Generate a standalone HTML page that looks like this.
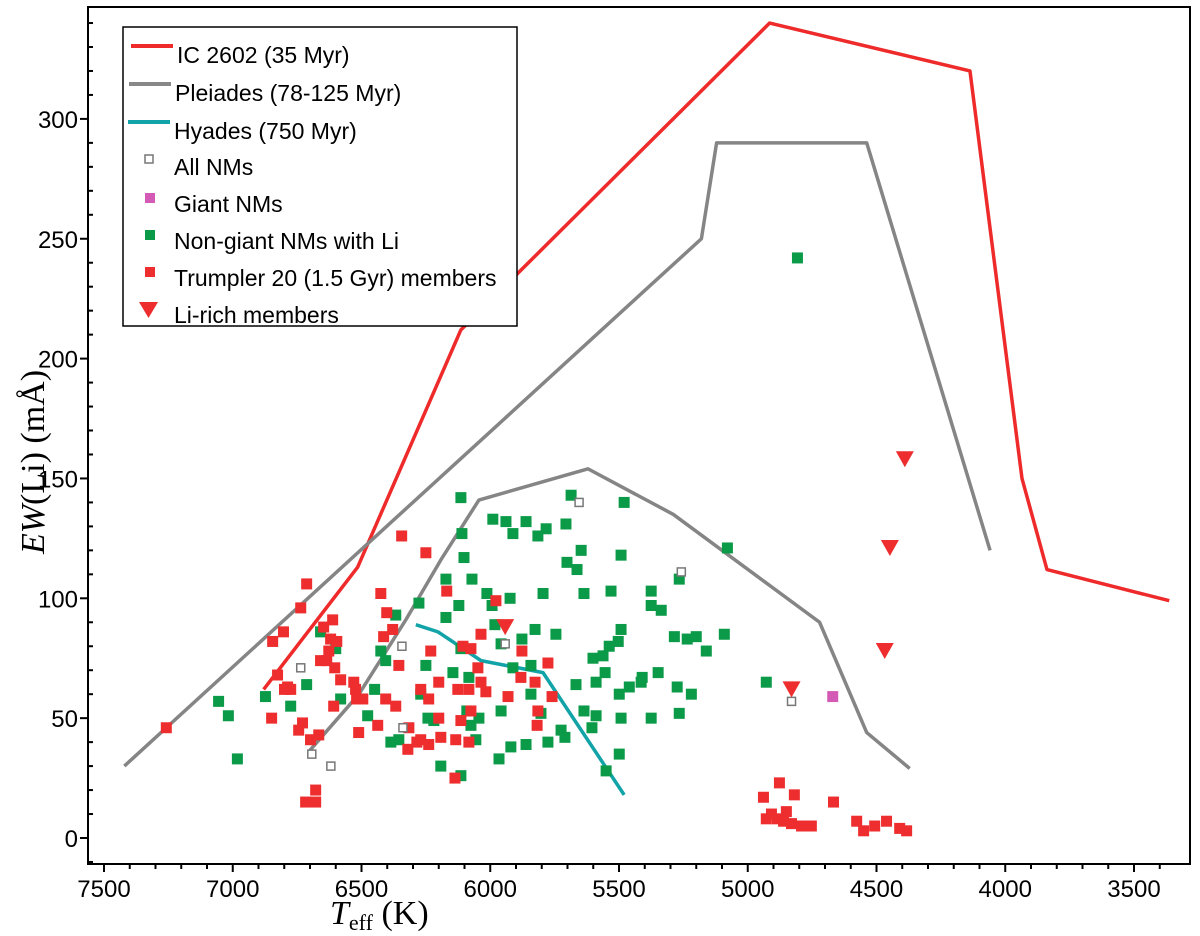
<!DOCTYPE html>
<html><head><meta charset="utf-8"><style>
html,body{margin:0;padding:0;background:#fff;width:1200px;height:936px;overflow:hidden}
svg{display:block;font-family:"Liberation Sans",Arial,sans-serif}
</style></head><body>
<svg id="chart" width="1200" height="936" viewBox="0 0 1200 936">
<rect x="88" y="7" width="1102" height="857" fill="#fff" stroke="#000" stroke-width="2"/>
<g id="ticks"></g>
<g id="lines"></g>
<g id="marks"></g>
<text x="330" y="924" font-family="Liberation Serif,serif" font-size="34" font-style="italic">T<tspan font-size="22" font-style="normal" dy="6">eff</tspan><tspan font-style="normal" dy="-6"> (K)</tspan></text>
<text transform="translate(44,462) rotate(-90)" text-anchor="middle" font-family="Liberation Serif,serif" font-size="34"><tspan font-style="italic">EW</tspan>(Li) (mÅ)</text>
<g>
<rect x="123" y="27" width="394" height="299" fill="#fff" stroke="#000" stroke-width="1.5"/>
<line x1="131" y1="46" x2="173" y2="46" stroke="#ee2a2a" stroke-width="4"/>
<text x="177" y="63" font-size="23">IC 2602 (35 Myr)</text>
<line x1="129" y1="84" x2="171" y2="84" stroke="#888" stroke-width="4"/>
<text x="175" y="101" font-size="23">Pleiades (78-125 Myr)</text>
<line x1="128" y1="122" x2="170" y2="122" stroke="#12a3a8" stroke-width="4"/>
<text x="174" y="139" font-size="23">Hyades (750 Myr)</text>
<rect x="145" y="155" width="8" height="8" fill="#fff" stroke="#777" stroke-width="1.5"/>
<text x="174" y="175" font-size="23">All NMs</text>
<rect x="145" y="193" width="10" height="10" fill="#d45bb5"/>
<text x="174" y="212" font-size="23">Giant NMs</text>
<rect x="145" y="230" width="10" height="10" fill="#0b9a48"/>
<text x="174" y="249" font-size="23">Non-giant NMs with Li</text>
<rect x="145" y="267" width="10" height="10" fill="#ee2e2e"/>
<text x="174" y="286" font-size="23">Trumpler 20 (1.5 Gyr) members</text>
<polygon points="139,302 158,302 148.5,318" fill="#ee2e2e"/>
<text x="174" y="323" font-size="23">Li-rich members</text>
</g>
</svg>
<script>
const xTicks=[7500,7000,6500,6000,5500,5000,4500,4000,3500];
const yTicks=[0,50,100,150,200,250,300];
const icT=[6880,6515,6114,4915,4137,3935,3838,3363];
const icEW=[62,113,212,340,320,150,112,99];
const plUpT=[7421,5180,5121,4538,4059];
const plUpEW=[30,250,290,290,120];
const plLoT=[6705,6510,6328,6192,6044,5620,5289,4721,4538,4371];
const plLoEW=[36,60,91,116,141,154,135,90,44,29];
const hyT=[6289,6203,6036,5795,5752,5480];
const hyEW=[89,86,74,69,62,18];
const liRichT=[5942,4830,4468,4448,4390];
const liRichEW=[88,62,78,121,158];
const giantT=[4670];
const giantEW=[59];
const allT=[6736,6693,6619,6343,6339,5655,5258,4830,5942];
const allEW=[71,35,30,80,46,140,111,57,81];
const redT=[7258,6845,6803,6826,6787,6775,6799,6736,6713,6849,6729,6744,6698,6666,6608,6612,6647,6620,6627,6596,6659,6635,6604,6581,6530,6523,6414,6402,6379,6425,6678,6717,6678,6355,6344,6250,6169,6106,6075,6231,6285,6320,6270,6239,6192,6134,6083,6048,6036,5978,6036,6114,6200,6126,6270,6075,6083,5931,5881,5877,6017,5826,5815,5818,5776,5760,6137,6200,6239,6406,6367,6316,6437,6511,6519,6495,4908,4885,4861,4830,4791,4753,4939,4877,4819,4667,4577,4550,4507,4461,4410,4383,4928,4850];
const redEW=[46,82,86,68,63,62,62,96,106,50,48,45,41,43,55,91,88,83,78,82,74,74,71,66,65,62,84,94,87,102,20,15,15,72,126,119,103,80,79,78,40,37,41,39,42,41,40,71,65,99,85,49,65,62,62,53,62,59,67,78,61,65,53,47,73,59,25,50,58,58,55,46,47,44,58,58,10,8,7,6,5,5,17,23,18,15,7,3,5,7,4,3,8,11];
const greenT=[7055,7017,6982,6873,6775,6713,6659,6600,6581,6476,6449,6425,6406,6367,6355,6386,6114,6110,6102,5990,5939,5912,5861,5815,6013,5982,6071,6172,6114,6122,5993,5923,5877,5826,5795,5745,5686,5702,5663,5636,5531,5492,5375,5538,5562,5601,5503,5554,5589,5414,5499,5550,5375,5492,5589,5636,5605,5725,5803,5958,6075,6091,6044,6219,6192,6056,5920,5842,5842,5912,6083,6145,6270,6242,6277,6250,6172,5958,5776,5710,5667,5861,5966,6114,5499,5460,5348,5266,5219,5235,5200,5161,5091,5079,4928,4807,5274,5285,5266,5410,5492,5480,5647,5706,5783,5375,5336];
const greenEW=[57,51,33,59,55,64,86,79,58,51,62,78,74,93,41,40,142,127,117,133,132,127,132,126,102,89,108,108,79,97,97,100,83,87,102,85,143,115,112,102,103,118,103,80,76,75,82,69,65,65,35,28,50,50,51,53,46,45,52,53,47,53,50,49,30,41,38,60,72,71,67,69,60,50,98,72,92,81,40,42,64,39,33,26,60,63,69,52,60,83,84,78,85,121,65,242,63,84,108,67,87,140,120,131,129,97,95];
</script>
<script>
const NS='http://www.w3.org/2000/svg';
const X0=104, XS=0.2575, Y0=838, YS=2.397;
function xs(t){return X0+(7500-t)*XS;}
function ys(v){return Y0-v*YS;}
function mk(tag,attrs,parent){const e=document.createElementNS(NS,tag);for(const k in attrs)e.setAttribute(k,attrs[k]);parent.appendChild(e);return e;}
const tk=document.getElementById('ticks');
for(let t=3400;t<=7500;t+=100){
  const x=xs(t);
  const major=t%500===0;
  const l=mk('line',{x1:x,x2:x,y1:864,y2:major?872:869,stroke:'#000','stroke-width':2},tk);
  
  
}
xTicks.forEach(t=>{
  const e=mk('text',{x:xs(t),y:897,'text-anchor':'middle','font-size':24},tk);
  e.textContent=t;
  
  
});
for(let v=-10;v<=340;v+=10){
  const y=ys(v);
  const major=v%50===0;
  const l=mk('line',{x1:major?80:88,x2:major?88:93,y1:y,y2:y,stroke:'#000','stroke-width':2},tk);
  
  
}
yTicks.forEach(v=>{
  const e=mk('text',{x:78,y:ys(v)+9,'text-anchor':'end','font-size':24},tk);
  e.textContent=v;
  
  
});
const lg=document.getElementById('lines');
function poly(T,E,color,name){
  const p=mk('polyline',{points:T.map((t,i)=>xs(t)+','+ys(E[i])).join(' '),fill:'none',stroke:color,'stroke-width':3.5,'stroke-linejoin':'round'},lg);
  
  
}
poly(icT,icEW,'#ee2a2a','ic2602-curve');
poly(plUpT,plUpEW,'#858585','pleiades-upper-curve');
poly(plLoT,plLoEW,'#858585','pleiades-lower-curve');
poly(hyT,hyEW,'#12a3a8','hyades-curve');
const mg=document.getElementById('marks');
function squares(T,E,fill,name){
  T.forEach((t,i)=>{
    const r=mk('rect',{x:xs(t)-5.5,y:ys(E[i])-5.5,width:11,height:11,fill:fill},mg);
    
    
  });
}
squares(greenT,greenEW,'#0b9a48','nongiant-nm-point');
squares(redT,redEW,'#ee2e2e','trumpler20-point');
allT.forEach((t,i)=>{
  const r=mk('rect',{x:xs(t)-4,y:ys(allEW[i])-4,width:8,height:8,fill:'#fff',stroke:'#777','stroke-width':1.5},mg);
  
  
});
squares(giantT,giantEW,'#d45bb5','giant-nm-point');
liRichT.forEach((t,i)=>{
  const x=xs(t),y=ys(liRichEW[i]);
  const p=mk('polygon',{points:(x-9)+','+(y-8)+' '+(x+9)+','+(y-8)+' '+x+','+(y+8),fill:'#ee2e2e'},mg);
  
  
});
</script>
</body></html>
